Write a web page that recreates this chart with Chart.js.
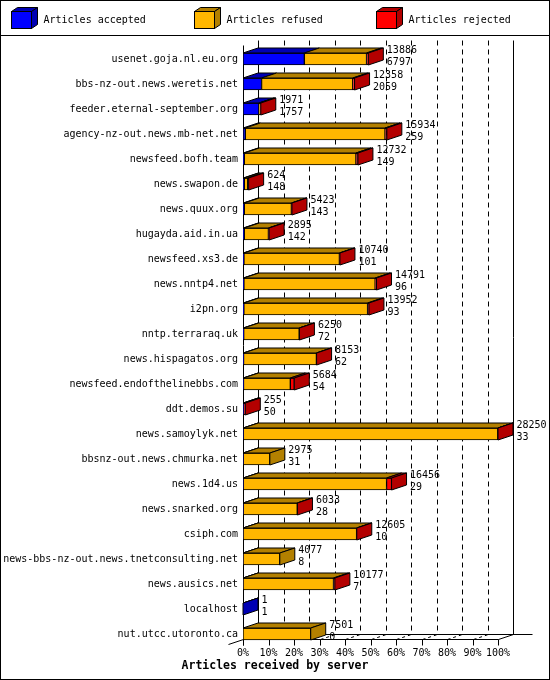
<!DOCTYPE html>
<html>
<head>
<meta charset="utf-8">
<title>Articles received by server</title>
<script src="https://cdn.jsdelivr.net/npm/chart.js@4.4.1/dist/chart.umd.min.js"></script>
<style>
  body { margin: 0; background: #fff; }
  canvas { display: block; }
</style>
</head>
<body>
<canvas id="chart" width="550" height="680"></canvas>
<script>
// hosts as listed on the left, top to bottom
var hosts = [
    'usenet.goja.nl.eu.org', 'bbs-nz-out.news.weretis.net', 'feeder.eternal-september.org',
    'agency-nz-out.news.mb-net.net', 'newsfeed.bofh.team', 'news.swapon.de', 'news.quux.org',
    'hugayda.aid.in.ua', 'newsfeed.xs3.de', 'news.nntp4.net', 'i2pn.org', 'nntp.terraraq.uk',
    'news.hispagatos.org', 'newsfeed.endofthelinebbs.com', 'ddt.demos.su', 'news.samoylyk.net',
    'bbsnz-out.news.chmurka.net', 'news.1d4.us', 'news.snarked.org', 'csiph.com',
    'news-bbs-nz-out.news.tnetconsulting.net', 'news.ausics.net', 'localhost', 'nut.utcc.utoronto.ca'
];

// numbers printed next to the bars
var offered = [13886, 12358, 1971, 15934, 12732, 624, 5423, 2895, 10740, 14791, 13952, 6250,
               8153, 5684, 255, 28250, 2975, 16456, 6033, 12605, 4077, 10177, 1, 7501];
var accepted = [6797, 2059, 1757, 259, 149, 148, 143, 142, 101, 96, 93, 72,
                62, 54, 50, 33, 31, 29, 28, 10, 8, 7, 1, 0];

// refused / rejected
var refused = [6889, 10099, 104, 15475, 12363, 376, 5220, 2673, 10579, 14545, 13709, 6158,
               8071, 5190, 0, 28197, 2944, 15877, 5985, 12575, 4069, 10020, 0, 7501];
var rejected = [200, 200, 110, 200, 220, 100, 60, 80, 60, 150, 150, 20,
                20, 440, 205, 20, 0, 550, 20, 20, 0, 150, 0, 0];

var seriesNames = ['Articles accepted', 'Articles refused', 'Articles rejected'];
var seriesColors = ['#0000ff', '#ffb700', '#ff0000'];
var seriesDark = ['#0000b3', '#b38000', '#b30000'];
var xTitle = 'Articles received by server';

var maxTotal = Math.max.apply(null, offered);
var pctTicks = [0, 10, 20, 30, 40, 50, 60, 70, 80, 90, 100];

var FONT = "'DejaVu Sans Mono', monospace";
var DX = 15, DY = 5, BAR = 12;

Chart.defaults.font.family = FONT;
Chart.defaults.font.size = 10;
Chart.defaults.color = '#000';

function line(ctx, x1, y1, x2, y2) {
    ctx.beginPath();
    ctx.moveTo(x1, y1);
    ctx.lineTo(x2, y2);
    ctx.stroke();
}

function poly(ctx, pts, fill) {
    ctx.beginPath();
    ctx.moveTo(pts[0][0], pts[0][1]);
    for (var i = 1; i < pts.length; i++) ctx.lineTo(pts[i][0], pts[i][1]);
    ctx.closePath();
    ctx.fillStyle = fill;
    ctx.fill();
    ctx.stroke();
}

var frame3d = {
    id: 'frame3d',
    beforeDatasetsDraw: function (chart) {
        var ctx = chart.ctx, xs = chart.scales.x, ys = chart.scales.y;
        var x0 = Math.round(xs.getPixelForValue(0)) + 0.5;
        var x1 = Math.round(xs.getPixelForValue(maxTotal)) + 0.5;
        var top = Math.round(chart.chartArea.top - 7) + 0.5;
        var floor = Math.round(ys.getPixelForValue(hosts.length - 1) + BAR / 2) - 0.5;
        var back = floor - DY;

        ctx.save();
        ctx.strokeStyle = '#000';
        ctx.lineWidth = 1;

        // back wall
        pctTicks.forEach(function (p) {
            var x = Math.round(xs.getPixelForValue(maxTotal * p / 100)) + DX + 0.5;
            ctx.setLineDash(p === 0 || p === 100 ? [] : [5, 4]);
            line(ctx, x, top, x, back);
        });

        // floor lines to the back wall
        ctx.setLineDash([3, 3]);
        pctTicks.forEach(function (p) {
            if (p === 0 || p === 100) return;
            var x = Math.round(xs.getPixelForValue(maxTotal * p / 100)) + 0.5;
            line(ctx, x, floor, x + DX, back);
        });
        ctx.setLineDash([]);

        line(ctx, x0, top + DY, x0, floor + 6);
        line(ctx, x0, floor, x1, floor);
        line(ctx, x0 + DX, back, x1 + DX + 19, back);
        line(ctx, x1, floor, x1 + DX, back);
        line(ctx, x0 - DX, floor + DY, x0, floor);

        pctTicks.forEach(function (p) {
            var x = Math.round(xs.getPixelForValue(maxTotal * p / 100)) + 0.5;
            line(ctx, x, floor, x, floor + 6);
        });
        ctx.restore();
    },
    afterDatasetsDraw: function (chart) {
        var ctx = chart.ctx, xs = chart.scales.x;
        ctx.save();
        ctx.strokeStyle = '#000';
        ctx.lineWidth = 1;
        hosts.forEach(function (h, i) {
            var last = -1, end = 0, y = 0, t = 0, b = 0;
            for (var d = 0; d < 3; d++) {
                var el = chart.getDatasetMeta(d).data[i];
                var v = chart.data.datasets[d].data[i];
                t = el.y - el.height / 2;
                b = el.y + el.height / 2;
                y = el.y;
                if (!v) continue;
                poly(ctx, [[el.base, t], [el.base + DX, t - DY], [el.x + DX, t - DY], [el.x, t]], seriesDark[d]);
                last = d;
                end = el.x;
            }
            if (last >= 0) {
                poly(ctx, [[end, t], [end + DX, t - DY], [end + DX, b - DY], [end, b]], seriesDark[last]);
            }
            var tx = xs.getPixelForValue(offered[i]) + DX + 3.5;
            ctx.fillStyle = '#000';
            ctx.font = '10px ' + FONT;
            ctx.textAlign = 'left';
            ctx.textBaseline = 'middle';
            ctx.fillText(String(offered[i]), tx, y - 8.5);
            ctx.fillText(String(accepted[i]), tx, y + 3);
        });
        ctx.restore();
    },
    afterDraw: function (chart) {
        var ctx = chart.ctx;
        ctx.save();
        ctx.strokeStyle = '#000';
        ctx.lineWidth = 1;
        ctx.strokeRect(0.5, 0.5, chart.width - 1, chart.height - 1);
        line(ctx, 0, 35.5, chart.width, 35.5);

        // legend with little cubes
        chart.data.datasets.forEach(function (ds, i) {
            var bx = 11.5 + Math.round(i * 182.5), by = 11.5, w = 20, hh = 17, dx = 6, dy = 4;
            poly(ctx, [[bx, by], [bx + dx, by - dy], [bx + w + dx, by - dy], [bx + w, by]], seriesDark[i]);
            poly(ctx, [[bx + w, by], [bx + w + dx, by - dy], [bx + w + dx, by + hh - dy], [bx + w, by + hh]], seriesDark[i]);
            ctx.fillStyle = ds.backgroundColor;
            ctx.fillRect(bx, by, w, hh);
            ctx.strokeRect(bx, by, w, hh);
            ctx.fillStyle = '#000';
            ctx.font = '10px ' + FONT;
            ctx.textAlign = 'left';
            ctx.textBaseline = 'middle';
            ctx.fillText(ds.label, bx + 32, 20.5);
        });

        // axis title, centred on the whole image
        ctx.font = 'bold 11.5px ' + FONT;
        ctx.textAlign = 'center';
        ctx.fillText(xTitle, chart.width / 2, 666);
        ctx.restore();
    }
};

var series = [accepted, refused, rejected];

var chart = new Chart(document.getElementById('chart'), {
    type: 'bar',
    data: {
        labels: hosts,
        datasets: series.map(function (vals, i) {
            return {
                label: seriesNames[i],
                data: vals,
                backgroundColor: seriesColors[i],
                borderColor: '#000',
                borderWidth: 1,
                borderSkipped: false,
                barThickness: BAR
            };
        })
    },
    options: {
        indexAxis: 'y',
        responsive: false,
        animation: false,
        layout: { padding: { top: 46.5, right: 52, bottom: 0, left: 0 } },
        scales: {
            x: {
                stacked: true,
                min: 0,
                max: maxTotal,
                afterBuildTicks: function (scale) {
                    scale.ticks = pctTicks.map(function (p) { return { value: maxTotal * p / 100 }; });
                },
                afterFit: function (scale) { scale.height = 33.5; },
                grid: { display: false, drawTicks: false },
                border: { display: false },
                ticks: {
                    padding: 0.5,
                    maxRotation: 0,
                    autoSkip: false,
                    callback: function (v) { return Math.round(v / maxTotal * 100) + '%'; }
                }
            },
            y: {
                stacked: true,
                afterFit: function (scale) { scale.width = 243; },
                grid: { display: false, drawTicks: false },
                border: { display: false },
                ticks: { padding: 5, autoSkip: false }
            }
        },
        plugins: {
            legend: { display: false },
            tooltip: { enabled: false },
            title: { display: false }
        }
    },
    plugins: [frame3d]
});
</script>
</body>
</html>
